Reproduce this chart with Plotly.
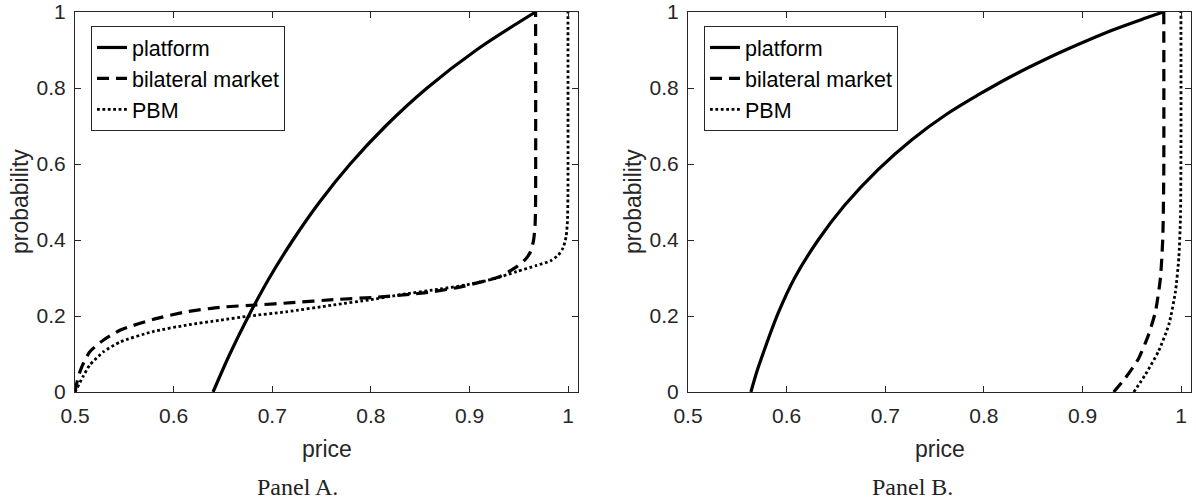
import plotly.graph_objects as go
from plotly.subplots import make_subplots

# ---- Panel A: probability vs. price ----
platform_a_price = [0.640, 0.657, 0.676, 0.697, 0.721, 0.748, 0.779, 0.815, 0.857, 0.907, 0.967]
platform_a_prob = [0.0, 0.10, 0.20, 0.30, 0.40, 0.50, 0.60, 0.70, 0.80, 0.90, 1.0]

bilateral_a_price = [0.500, 0.5015, 0.504, 0.507, 0.515, 0.529, 0.546, 0.579, 0.613, 0.647,
                     0.684, 0.720, 0.762, 0.803, 0.840, 0.863, 0.890, 0.914, 0.931, 0.948,
                     0.957, 0.962, 0.965, 0.9665, 0.967, 0.967]
bilateral_a_prob = [0.0, 0.020, 0.045, 0.067, 0.106, 0.137, 0.163, 0.191, 0.211, 0.223,
                    0.229, 0.235, 0.243, 0.249, 0.257, 0.264, 0.276, 0.291, 0.304, 0.330,
                    0.350, 0.370, 0.400, 0.440, 0.500, 1.0]

pbm_a_price = [0.500, 0.502, 0.505, 0.508, 0.515, 0.529, 0.546, 0.579, 0.613, 0.647,
               0.677, 0.714, 0.762, 0.800, 0.830, 0.870, 0.897, 0.925, 0.948, 0.968,
               0.982, 0.990, 0.995, 0.998, 0.9993, 0.9998, 0.9998]
pbm_a_prob = [0.0, 0.010, 0.025, 0.040, 0.071, 0.106, 0.132, 0.159, 0.176, 0.189,
              0.200, 0.211, 0.229, 0.243, 0.256, 0.271, 0.282, 0.298, 0.317, 0.333,
              0.345, 0.360, 0.380, 0.410, 0.450, 0.520, 1.0]

# ---- Panel B ----
platform_b_price = [0.5638, 0.570, 0.5746, 0.5915, 0.6085, 0.632, 0.659, 0.693, 0.727,
                    0.761, 0.795, 0.828, 0.862, 0.896, 0.930, 0.964, 0.982]
platform_b_prob = [0.0, 0.055, 0.090, 0.208, 0.302, 0.400, 0.492, 0.586, 0.664,
                   0.729, 0.783, 0.831, 0.875, 0.915, 0.952, 0.984, 1.0]

bilateral_b_price = [0.9316, 0.9435, 0.957, 0.967, 0.974, 0.979, 0.9814, 0.9824, 0.9824]
bilateral_b_prob = [0.0, 0.037, 0.089, 0.151, 0.212, 0.300, 0.405, 0.580, 1.0]

pbm_b_price = [0.952, 0.9638, 0.977, 0.9875, 0.9942, 0.9976, 0.9993, 0.9998, 0.9998]
pbm_b_prob = [0.0, 0.046, 0.107, 0.177, 0.264, 0.352, 0.457, 0.620, 1.0]

x_ticks = [0.5, 0.6, 0.7, 0.8, 0.9, 1.0]
x_tick_text = ["0.5", "0.6", "0.7", "0.8", "0.9", "1"]
y_ticks = [0, 0.2, 0.4, 0.6, 0.8, 1.0]
y_tick_text = ["0", "0.2", "0.4", "0.6", "0.8", "1"]

series_names = ["platform", "bilateral market", "PBM"]
captions = ["Panel A.", "Panel B."]

W, H = 1196, 501
AX = "#262626"
SANS = "Liberation Sans, Arial, sans-serif"
SERIF = "Liberation Serif, Times New Roman, serif"

# pixel frames of the two plot areas
frames = [(75, 578), (688, 1191)]
top_px, bot_px = 12, 392

fig = make_subplots(rows=1, cols=2)

styles = [
    dict(color="black", width=3.2),
    dict(color="black", width=3.2, dash="12px,7px"),
    dict(color="black", width=2.8, dash="2.8px,2.6px"),
]

panel_data = [
    [(platform_a_price, platform_a_prob), (bilateral_a_price, bilateral_a_prob), (pbm_a_price, pbm_a_prob)],
    [(platform_b_price, platform_b_prob), (bilateral_b_price, bilateral_b_prob), (pbm_b_price, pbm_b_prob)],
]

for col, series in enumerate(panel_data, start=1):
    legend_id = "legend" if col == 1 else "legend2"
    for k, ((xs, ys), name, st) in enumerate(zip(series, series_names, styles)):
        smooth = 1.0 if k == 0 else 0.6
        fig.add_trace(
            go.Scatter(x=xs, y=ys, mode="lines", name=name,
                       line=dict(**st, shape="spline", smoothing=smooth),
                       legend=legend_id, showlegend=True, hoverinfo="skip"),
            row=1, col=col,
        )

annotations = []
for i, (l, r) in enumerate(frames):
    xa = "xaxis" if i == 0 else "xaxis2"
    ya = "yaxis" if i == 0 else "yaxis2"
    axis_common = dict(
        showline=True, linecolor=AX, linewidth=1, mirror="ticks", ticks="inside",
        ticklen=6, tickwidth=1, tickcolor=AX, showgrid=False, zeroline=False,
        tickfont=dict(family=SANS, size=21, color=AX), automargin=False,
    )
    fig.update_layout({
        xa: dict(axis_common, domain=[l / W, r / W], range=[0.5, 1.01],
                 tickvals=x_ticks, ticktext=x_tick_text, ticklabelstandoff=5),
        ya: dict(axis_common, domain=[1 - bot_px / H, 1 - top_px / H], range=[0, 1],
                 tickvals=y_ticks, ticktext=y_tick_text, ticklabelstandoff=4),
    })
    cx = (l + r) / 2
    annotations.append(dict(text="price", x=cx / W, y=1 - 449 / H, xref="paper", yref="paper",
                            xanchor="center", yanchor="middle", showarrow=False,
                            font=dict(family=SANS, size=23, color=AX)))
    annotations.append(dict(text="probability", x=(l - 55) / W, y=1 - (top_px + bot_px) / 2 / H,
                            xref="paper", yref="paper", xanchor="center", yanchor="middle",
                            textangle=-90, showarrow=False,
                            font=dict(family=SANS, size=23, color=AX)))
    cap_x = 297 if i == 0 else 912
    annotations.append(dict(text=captions[i], x=cap_x / W, y=1 - 487 / H, xref="paper", yref="paper",
                            xanchor="center", yanchor="middle", showarrow=False,
                            font=dict(family=SERIF, size=24, color="#222222")))

legend_common = dict(
    xanchor="left", yanchor="top", bgcolor="white", bordercolor=AX, borderwidth=1,
    font=dict(family=SANS, size=21.5, color="black"), tracegroupgap=0, itemwidth=30,
)

fig.update_layout(
    width=W, height=H,
    margin=dict(l=0, r=0, t=0, b=0),
    paper_bgcolor="white", plot_bgcolor="white",
    annotations=annotations,
    legend=dict(legend_common, x=91 / W, y=1 - 26 / H),
    legend2=dict(legend_common, x=704 / W, y=1 - 26 / H),
)

fig.write_html("out.html")
